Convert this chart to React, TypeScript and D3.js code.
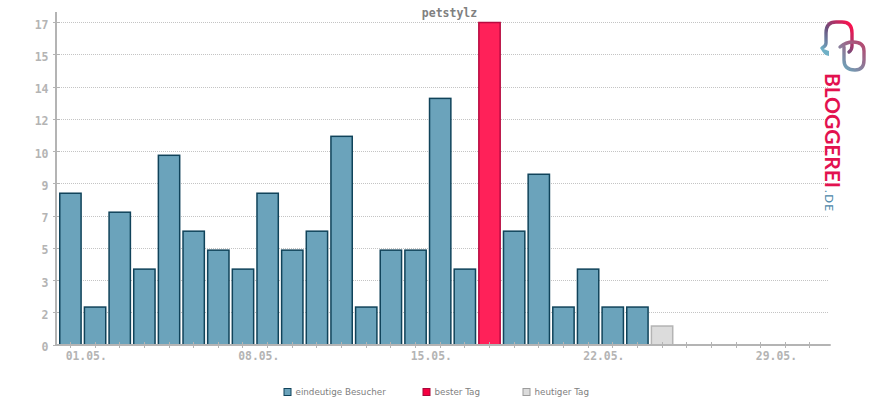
import * as d3 from "d3";

const days = d3.range(1, 32).map((d) => String(d).padStart(2, "0") + ".05.");
const visitors = [8, 2, 7, 4, 10, 6, 5, 4, 8, 5, 6, 11, 2, 5, 5, 13, 4, 17, 6, 9, 2, 4, 2, 2, 1];
const bestDay = "18.05.";
const today = "25.05.";
const yTicks = [0, 1.7, 3.4, 5.1, 6.8, 8.5, 10.2, 11.9, 13.6, 15.3, 17];
const dayLabels = ["01.05.", "08.05.", "15.05.", "22.05.", "29.05."];
const legendItems = ["eindeutige Besucher", "bester Tag", "heutiger Tag"];

const width = 870;
const height = 400;
const mono = "'DejaVu Sans Mono', monospace";
const axisGrey = "#b4b4b4";

const colors: Record<string, { fill: string; stroke: string; swatch: string; swatchStroke: string }> = {
  "eindeutige Besucher": { fill: "#6ba3bb", stroke: "#10435a", swatch: "#6ba3bb", swatchStroke: "#10435a" },
  "bester Tag": { fill: "#ff2159", stroke: "#b80a40", swatch: "#f50040", swatchStroke: "#a8083a" },
  "heutiger Tag": { fill: "#dcdcdc", stroke: "#b4b4b4", swatch: "#dcdcdc", swatchStroke: "#9c9c9c" },
};
const legendX = [284, 423, 523];

const x = d3.scaleBand<string>().domain(days).range([58.1, 822.3]).paddingInner(0.135).paddingOuter(0.0675);
const y = d3.scaleLinear().domain([0, 17]).range([345, 22.5]);

function barColor(day: string) {
  if (day === bestDay) return colors["bester Tag"];
  if (day === today) return colors["heutiger Tag"];
  return colors["eindeutige Besucher"];
}

export default function App() {
  const tickX = (d: string) => x(d)! + x.bandwidth() / 2;

  return (
    <svg
      width={width}
      height={height}
      viewBox={`0 0 ${width} ${height}`}
      style={{ position: "absolute", left: 0, top: 0, background: "#fff" }}
    >
      <defs>
        <linearGradient id="logoText" gradientUnits="userSpaceOnUse" x1="0" y1="73" x2="0" y2="190">
          <stop offset="0" stopColor="#e2124f" />
          <stop offset="0.5" stopColor="#9c3c6c" />
          <stop offset="1" stopColor="#4d6c94" />
        </linearGradient>
        <linearGradient id="logoA" gradientUnits="userSpaceOnUse" x1="822" y1="50" x2="852" y2="25">
          <stop offset="0" stopColor="#6fb0c6" />
          <stop offset="0.45" stopColor="#6a4f7c" />
          <stop offset="1" stopColor="#ff0f4d" />
        </linearGradient>
        <linearGradient id="logoB" gradientUnits="userSpaceOnUse" x1="842" y1="68" x2="864" y2="44">
          <stop offset="0" stopColor="#6aa6bc" />
          <stop offset="1" stopColor="#b5476f" />
        </linearGradient>
      </defs>

      <text x={449.5} y={16.5} textAnchor="middle" fontFamily={mono} fontSize={11.5} fontWeight="bold" fill="#808080">
        petstylz
      </text>

      {yTicks.slice(1).map((t) => (
        <line
          key={t}
          x1={57}
          x2={829}
          y1={y(t)}
          y2={y(t)}
          stroke="#c4c4c4"
          strokeWidth={1}
          strokeDasharray="1 1"
          shapeRendering="crispEdges"
        />
      ))}

      {yTicks.map((t) => (
        <line key={t} x1={53} x2={60} y1={y(t)} y2={y(t)} stroke={axisGrey} strokeWidth={1} shapeRendering="crispEdges" />
      ))}

      {visitors.map((v, i) => {
        const c = barColor(days[i]);
        return (
          <rect
            key={days[i]}
            x={x(days[i])!}
            y={y(v)}
            width={x.bandwidth()}
            height={y(0) - y(v)}
            fill={c.fill}
            stroke={c.stroke}
            strokeWidth={1.5}
          />
        );
      })}

      <line x1={56} x2={56} y1={12} y2={346} stroke={axisGrey} strokeWidth={2} />
      <line x1={55} x2={830.7} y1={345} y2={345} stroke={axisGrey} strokeWidth={2} />

      {days.map((d) => (
        <line
          key={d}
          x1={tickX(d)}
          x2={tickX(d)}
          y1={342}
          y2={348}
          stroke={axisGrey}
          strokeWidth={1}
          shapeRendering="crispEdges"
        />
      ))}

      {yTicks.map((t) => (
        <text
          key={t}
          x={48.5}
          y={y(t) + 6}
          textAnchor="end"
          fontFamily={mono}
          fontSize={11.5}
          fontWeight="bold"
          fill={axisGrey}
        >
          {Math.round(t)}
        </text>
      ))}

      {dayLabels.map((d) => (
        <text
          key={d}
          x={tickX(d) - 4.8}
          y={360}
          fontFamily={mono}
          fontSize={11.4}
          fontWeight="bold"
          fill={axisGrey}
        >
          {d}
        </text>
      ))}

      {legendItems.map((name, i) => (
        <g key={name}>
          <rect
            x={legendX[i]}
            y={388.5}
            width={7}
            height={7}
            fill={colors[name].swatch}
            stroke={colors[name].swatchStroke}
            strokeWidth={1}
          />
          <text x={legendX[i] + 11.5} y={395} fontFamily="'DejaVu Sans', sans-serif" fontSize={8.75} fill="#808080">
            {name}
          </text>
        </g>
      ))}

      <g fill="none" strokeWidth={3.4} strokeLinecap="round">
        <path
          d="M822 48 Q826 46 826 43 L826 33 Q826 22 836 22 L842 22 Q852 22 852 33 L852 46 Q852 50 849 52"
          stroke="url(#logoA)"
        />
        <path
          d="M840 47 Q846 42 853 42 Q864 42 864 51 L864 60 Q864 70 855 70 Q844 70 844 60 L844 47"
          stroke="url(#logoB)"
        />
      </g>
      <path d="M820.5 48 Q825 49.5 829 51 L829 56 Q823 55 820.5 48 Z" fill="#6fb0c6" />
      <g fontFamily="Lato, sans-serif">
        <text
          transform="translate(824.5,73) rotate(90)"
          fontSize={21}
          fontWeight="bold"
          textLength={115}
          lengthAdjust="spacing"
          fill="url(#logoText)"
        >
          BLOGGEREI
        </text>
        <text
          transform="translate(824.5,190) rotate(90)"
          fontSize={11.5}
          textLength={21}
          lengthAdjust="spacing"
          fill="#4a86a8"
        >
          .DE
        </text>
      </g>
    </svg>
  );
}
